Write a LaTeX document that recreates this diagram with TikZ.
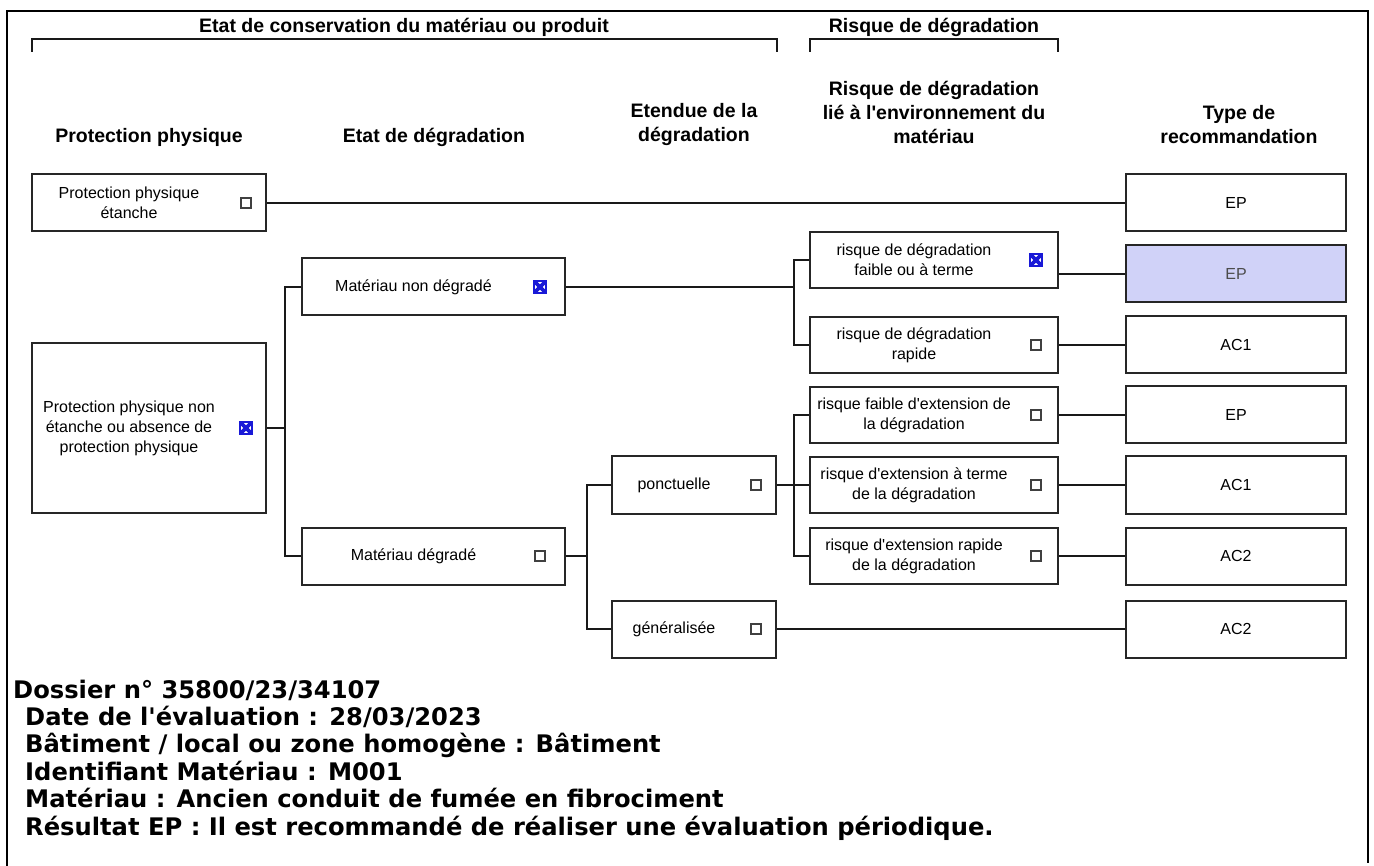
\documentclass[tikz,border=0pt]{standalone}
\usepackage{fontspec}
\setmainfont{Liberation Sans}
\newfontfamily\infofont{DejaVu Sans}
\usepackage{tikz}
\usetikzlibrary{positioning,calc}

\definecolor{epfill}{RGB}{208,210,248}
\definecolor{tickblue}{RGB}{25,25,215}

\tikzset{
  box/.style={draw=black!85, line width=2pt, minimum height=57pt, inner sep=0pt},
  col1/.style={minimum width=234pt},
  col2/.style={minimum width=263pt},
  col3/.style={minimum width=164pt},
  col4/.style={minimum width=248pt, minimum height=56pt},
  col5/.style={minimum width=220pt, font=\fontsize{16}{20}\selectfont},
  boxtext/.style={align=center, inner sep=0pt, font=\fontsize{16}{20}\selectfont},
  hdr/.style={align=center, inner sep=0pt, font=\fontsize{19.5}{24}\selectfont\bfseries},
  chk/.style={draw=black!75, line width=1.3pt, minimum size=10pt, inner sep=0pt},
  chkon/.style={draw=tickblue, line width=1.8pt, minimum size=12pt, inner sep=0pt,
    path picture={\draw[tickblue, line width=3.6pt]
      (path picture bounding box.north west) -- (path picture bounding box.south east)
      (path picture bounding box.north east) -- (path picture bounding box.south west);}},
  conn/.style={line width=2pt, black!90},
  info/.style={inner sep=0pt, anchor=base west, font=\infofont\bfseries\fontsize{24.2}{27}\selectfont},
}

% box with its text and its check mark
\newcommand{\choicebox}[6][21]{%
  \node[box, #4] (#2) at (#3) {};
  \node[boxtext] (#2-txt) at ($(#2.center)+(-20,0)$) {#5};
  \node[#6] (#2-chk) at ($(#2.east)+(-#1,0)$) {};
}

\begin{document}
\begin{tikzpicture}[x=1pt, y=-1pt]
    \useasboundingbox (0,0) rectangle (1374,866);
    \draw[line width=2pt] (7,866) -- (7,11) -- (1368,11) -- (1368,863);

    % groups
    \node[hdr] (g1) at (404,27) {Etat de conservation du matériau ou produit};
    \draw[conn] (32,52) -- (32,39) -- (777,39) -- (777,52);
    \node[hdr] (g2) at (934,27) {Risque de dégradation};
    \draw[conn] (810,52) -- (810,39) -- (1058,39) -- (1058,52);

    % column heads
    \node[hdr] (h1) at (149,137) {Protection physique};
    \node[hdr] (h2) at (434,137) {Etat de dégradation};
    \node[hdr] (h3) at (694,125) {Etendue de la\\dégradation};
    \node[hdr] (h4) at (934,112) {Risque de dégradation\\lié à l\textquotesingle environnement du\\matériau};
    \node[hdr] (h5) at (1239,125) {Type de\\recommandation};

    % Protection physique
    \choicebox{pe}{149,203}{col1}{Protection physique\\étanche}{chk}
    \choicebox{pn}{149,428}{col1, minimum height=170pt}{Protection physique non\\étanche ou absence de\\protection physique}{chkon}

    % Etat de degradation
    \choicebox[26]{nd}{433.5,287}{col2}{Matériau non dégradé}{chkon}
    \choicebox[26]{dg}{433.5,556}{col2}{Matériau dégradé}{chk}

    % Etendue
    \choicebox{po}{694,485}{col3}{ponctuelle}{chk}
    \choicebox{ge}{694,629}{col3}{généralisée}{chk}

    % Risque
    \choicebox[23]{r1}{934,260}{col4}{risque de dégradation\\faible ou à terme}{chkon}
    \choicebox[23]{r2}{934,345}{col4}{risque de dégradation\\rapide}{chk}
    \choicebox[23]{r3}{934,415}{col4}{risque faible d\textquotesingle extension de\\la dégradation}{chk}
    \choicebox[23]{r4}{934,485}{col4}{risque d\textquotesingle extension à terme\\de la dégradation}{chk}
    \choicebox[23]{r5}{934,556}{col4}{risque d\textquotesingle extension rapide\\de la dégradation}{chk}

    % Type de recommandation
    \node[box, col5] (t1) at (1236,203) {EP};
    \node[box, col5, fill=epfill, text=black!70] (t2) at (1236,274) {EP};
    \node[box, col5] (t3) at (1236,345) {AC1};
    \node[box, col5] (t4) at (1236,415) {EP};
    \node[box, col5] (t5) at (1236,485) {AC1};
    \node[box, col5] (t6) at (1236,556) {AC2};
    \node[box, col5] (t7) at (1236,629) {AC2};

    % connectors
    \coordinate (j1) at ($(pn.east)+(18,0)$);
    \coordinate (j2) at ($(nd.east -| r1.west)+(-15,0)$);
    \coordinate (j3) at ($(dg.east -| po.west)+(-24,0)$);
    \coordinate (j4) at ($(po.east -| r3.west)+(-15,0)$);
    \draw[conn] (pe.east) -- (t1.west);
    \draw[conn] (pn.east) -- (j1);
    \draw[conn] (nd.west) -| (j1) |- (dg.west);
    \draw[conn] (nd.east) -- (j2);
    \draw[conn] (r1.west) -| (j2) |- (r2.west);
    \draw[conn] (dg.east) -- (j3);
    \draw[conn] (po.west) -| (j3) |- (ge.west);
    \draw[conn] (po.east) -- (r4.west);
    \draw[conn] (r3.west) -| (j4) |- (r5.west);
    \draw[conn] (t2.west -| r1.east) -- (t2.west);
    \draw[conn] (r2.east) -- (t3.west);
    \draw[conn] (r3.east) -- (t4.west);
    \draw[conn] (r4.east) -- (t5.west);
    \draw[conn] (r5.east) -- (t6.west);
    \draw[conn] (ge.east) -- (t7.west);

    % dossier
    \node[info] (dos) at (13,698) {Dossier n° 35800/23/34107};
    \foreach \txt [count=\i] in {Date de l\textquotesingle évaluation : 28/03/2023,
        Bâtiment / local ou zone homogène : Bâtiment,
        Identifiant Matériau : M001,
        Matériau : Ancien conduit de fumée en fibrociment,
        Résultat EP : Il est recommandé de réaliser une évaluation périodique.}
      \node[info] (info\i) at (25,{698+27.4*\i}) {\txt};
\end{tikzpicture}
\end{document}
